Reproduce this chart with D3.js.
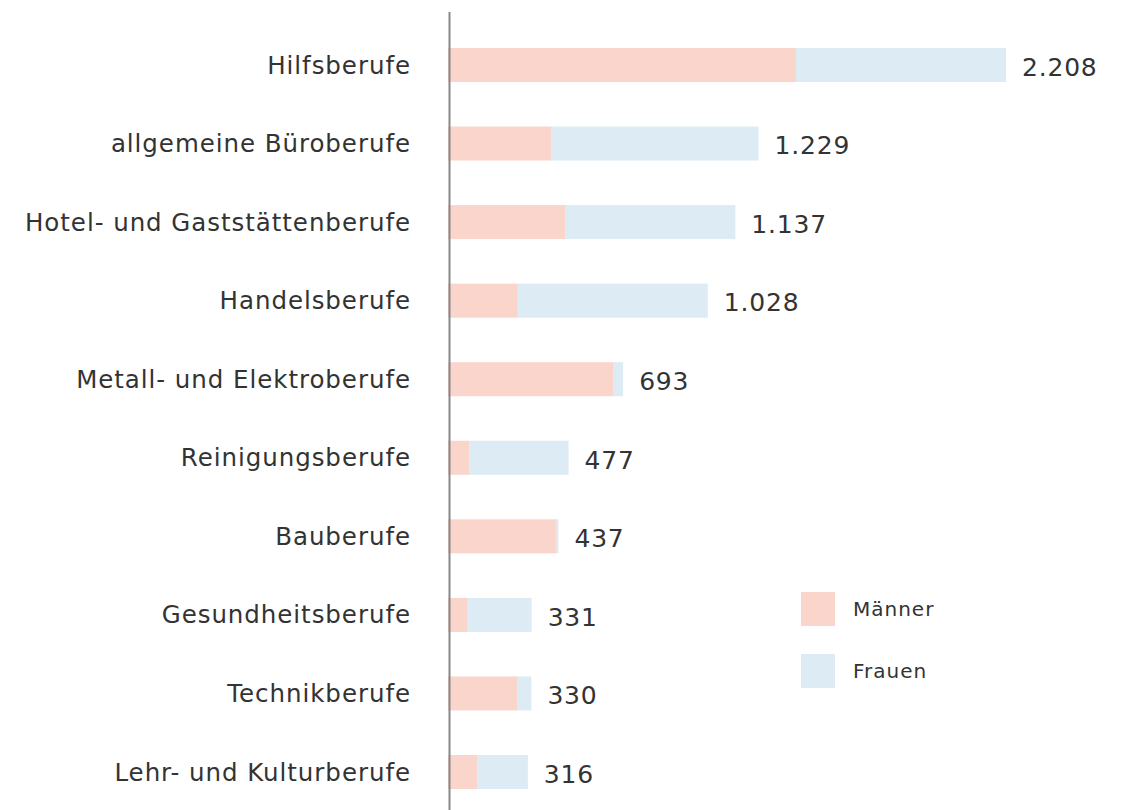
<!DOCTYPE html>
<html>
<head>
<meta charset="utf-8">
<script src="https://cdn.jsdelivr.net/npm/d3@7"></script>
<style>
  body { margin: 0; background: #fff; }
  svg text { font-family: "DejaVu Sans", Verdana, sans-serif; fill: #333; }
</style>
</head>
<body>
<div id="chart"></div>
<script>
const berufe = [
    "Hilfsberufe",
    "allgemeine Büroberufe",
    "Hotel- und Gaststättenberufe",
    "Handelsberufe",
    "Metall- und Elektroberufe",
    "Reinigungsberufe",
    "Bauberufe",
    "Gesundheitsberufe",
    "Technikberufe",
    "Lehr- und Kulturberufe"
];
const maenner = [1377, 410, 463, 276, 653, 83, 430, 78, 273, 115];
const gesamt = [2208, 1229, 1137, 1028, 693, 477, 437, 331, 330, 316];
const frauen = gesamt.map((t, i) => t - maenner[i]);
const totalLabels = ["2.208", "1.229", "1.137", "1.028", "693", "477", "437", "331", "330", "316"];
const serien = ["Männer", "Frauen"];

const width = 1129;
const height = 810;

const color = d3.scaleOrdinal()
    .domain(serien)
    .range(["#f9d5cc", "#dcebf4"]);

const data = berufe.map((b, i) => ({
    beruf: b,
    "Männer": maenner[i],
    "Frauen": frauen[i],
    total: gesamt[i],
    label: totalLabels[i]
}));

const svg = d3.select("#chart")
    .append("svg")
    .attr("width", width)
    .attr("height", height);

const x = d3.scaleLinear()
    .domain([0, 2208])
    .range([448, 1006]);

const y = d3.scaleBand()
    .domain(berufe)
    .range([25.7, 811.3])
    .paddingInner(0.567)
    .paddingOuter(0.2835);

const stacked = d3.stack().keys(serien)(data);

// Bars
svg.append("g")
    .selectAll("g")
    .data(stacked)
    .join("g")
    .attr("fill", d => color(d.key))
    .selectAll("rect")
    .data(d => d)
    .join("rect")
    .attr("x", d => x(d[0]))
    .attr("y", d => y(d.data.beruf))
    .attr("width", d => x(d[1]) - x(d[0]))
    .attr("height", y.bandwidth());

// Category labels
svg.append("g")
    .selectAll("text")
    .data(data)
    .join("text")
    .attr("x", 411)
    .attr("y", d => y(d.beruf) + y.bandwidth() / 2)
    .attr("dy", "0.35em")
    .attr("text-anchor", "end")
    .style("font-size", "24.5px")
    .style("letter-spacing", "0.95px")
    .text(d => d.beruf);

// Total labels
svg.append("g")
    .selectAll("text")
    .data(data)
    .join("text")
    .attr("x", d => x(d.total) + 16)
    .attr("y", d => y(d.beruf) + y.bandwidth() / 2 + 2)
    .attr("dy", "0.35em")
    .style("font-size", "25px")
    .style("letter-spacing", "0.8px")
    .text(d => d.label);

// Vertical axis line
svg.append("line")
    .attr("x1", 449.5)
    .attr("x2", 449.5)
    .attr("y1", 12)
    .attr("y2", height)
    .attr("stroke", "#888")
    .attr("stroke-width", 2);

// Legend
const legend = svg.append("g")
    .attr("transform", "translate(801, 592)");

const item = legend.selectAll("g")
    .data(serien)
    .join("g")
    .attr("transform", (d, i) => `translate(0, ${i * 62})`);

item.append("rect")
    .attr("width", 34)
    .attr("height", 34)
    .attr("fill", d => color(d));

item.append("text")
    .attr("x", 52)
    .attr("y", 17)
    .attr("dy", "0.35em")
    .style("font-size", "20px")
    .style("letter-spacing", "1px")
    .text(d => d);
</script>
</body>
</html>
